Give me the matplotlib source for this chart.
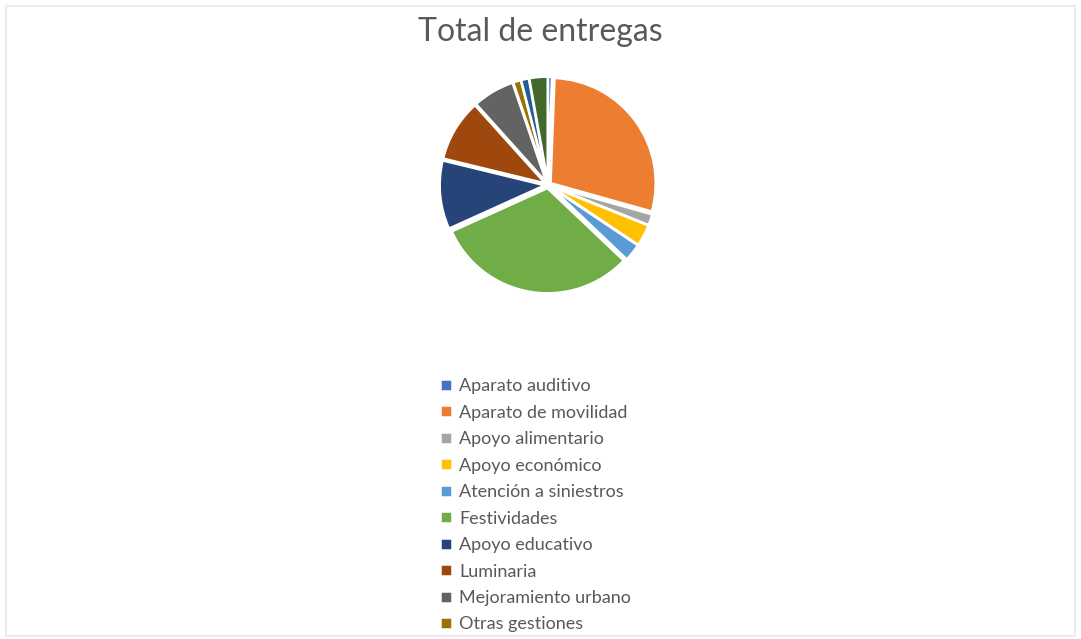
import matplotlib
matplotlib.use("Agg")
from matplotlib import pyplot as plt
from matplotlib.patches import Rectangle

plt.rcParams['font.family'] = ['Lato', 'DejaVu Sans']

# categories in legend order (last two are hidden below the bottom edge)
categorias = ["Aparato auditivo", "Aparato de movilidad", "Apoyo alimentario",
              "Apoyo económico", "Atención a siniestros", "Festividades",
              "Apoyo educativo", "Luminaria", "Mejoramiento urbano",
              "Otras gestiones", "Vivienda", "Otros"]
# percentages
valores = [0.6, 28.6, 1.7, 3.3, 2.7, 31.0, 10.5, 9.5, 6.4, 1.2, 1.2, 2.8]
colores = ["#4472C4", "#ED7D31", "#A5A5A5", "#FFC000", "#5B9BD5", "#70AD47",
           "#264478", "#9E480E", "#636363", "#997300", "#255E91", "#43682B"]

fig = plt.figure(figsize=(10.81, 6.39), dpi=100)
fig.patches.append(Rectangle((6 / 1081, 3 / 639), 1069 / 1081, 630 / 639,
                             transform=fig.transFigure, fill=False,
                             edgecolor="#ececec", linewidth=1.5))

fig.text(0.5, 1 - 32 / 639, "Total de entregas", ha="center", va="center",
         fontsize=23, color="#595959")

w, h = 263 / 1081, 263 / 639
ax = fig.add_axes([548 / 1081 - w / 2, 1 - 185 / 639 - h / 2, w, h])
wedges, _ = ax.pie(valores, colors=colores, startangle=90, counterclock=False,
                   explode=[0.03] * len(valores),
                   wedgeprops=dict(edgecolor="white", linewidth=1.8))
ax.set_aspect("equal")

# keep the last visible row inside the frame
leg = fig.legend(wedges[:10], categorias[:10], loc="upper left",
                 bbox_to_anchor=(433 / 1081, 1 - 371 / 639), frameon=False,
                 fontsize=13, labelcolor="#595959", handlelength=0.65,
                 handleheight=0.65, handletextpad=0.4, labelspacing=0.58,
                 borderaxespad=0)

fig.savefig("out.png", dpi=100)
